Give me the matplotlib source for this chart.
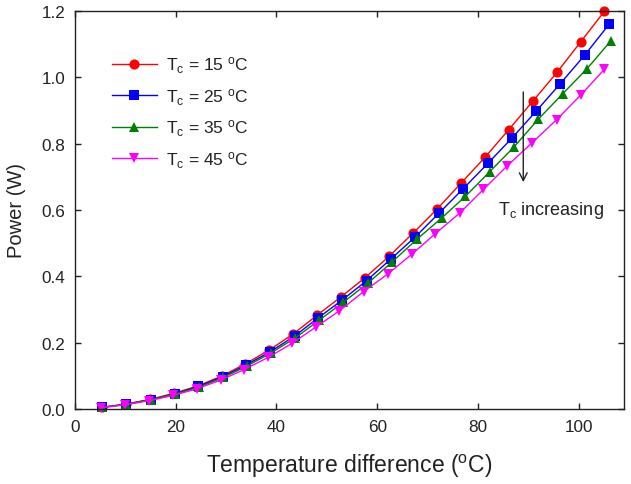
import matplotlib
matplotlib.use("Agg")
import matplotlib.pyplot as plt

plt.rcParams['font.family'] = ['Liberation Sans', 'DejaVu Sans']
plt.rcParams['mathtext.default'] = 'regular'

# Data
x_15 = [5.3, 10.1, 14.9, 19.6, 24.3, 29.1, 33.8, 38.6, 43.3, 48.1, 52.8,
        57.6, 62.4, 67.1, 71.9, 76.6, 81.4, 86.1, 90.9, 95.7, 100.4, 105.1]
p_15 = [0.005, 0.015, 0.029, 0.047, 0.069, 0.099, 0.136, 0.178, 0.226, 0.283, 0.338,
        0.396, 0.461, 0.530, 0.603, 0.680, 0.759, 0.842, 0.928, 1.015, 1.107, 1.199]

x_25 = [5.4, 10.2, 15.0, 19.8, 24.5, 29.3, 34.0, 38.8, 43.6, 48.3, 53.1,
        57.9, 62.7, 67.5, 72.3, 77.0, 82.0, 86.7, 91.5, 96.3, 101.2, 106.1]
p_25 = [0.005, 0.014, 0.028, 0.046, 0.068, 0.097, 0.133, 0.173, 0.220, 0.275, 0.329,
        0.387, 0.452, 0.518, 0.591, 0.663, 0.741, 0.816, 0.897, 0.980, 1.067, 1.161]

x_35 = [5.4, 10.2, 15.0, 19.8, 24.6, 29.4, 34.2, 38.9, 43.7, 48.5, 53.3,
        58.2, 63.0, 67.9, 72.8, 77.5, 82.3, 87.1, 92.0, 96.8, 101.6, 106.4]
p_35 = [0.005, 0.014, 0.028, 0.045, 0.066, 0.095, 0.130, 0.169, 0.214, 0.268, 0.322,
        0.380, 0.444, 0.512, 0.576, 0.641, 0.715, 0.789, 0.874, 0.950, 1.025, 1.110]

x_45 = [5.2, 10.0, 14.7, 19.5, 24.2, 28.9, 33.6, 38.4, 43.1, 47.8, 52.5,
        57.3, 62.1, 66.9, 71.5, 76.4, 81.1, 85.8, 90.7, 95.6, 100.5, 105.1]
p_45 = [0.004, 0.013, 0.025, 0.041, 0.061, 0.087, 0.119, 0.156, 0.198, 0.247, 0.296,
        0.354, 0.407, 0.467, 0.528, 0.591, 0.662, 0.733, 0.802, 0.872, 0.948, 1.024]

labels = [r'T$_{c}$ = 15 $^{o}$C', r'T$_{c}$ = 25 $^{o}$C',
          r'T$_{c}$ = 35 $^{o}$C', r'T$_{c}$ = 45 $^{o}$C']
colors = ['#ff0000', '#0000ff', '#008000', '#ff00ff']
markers = ['o', 's', '^', 'v']

xticks = [0, 20, 40, 60, 80, 100]
yticks = [0.0, 0.2, 0.4, 0.6, 0.8, 1.0, 1.2]

fig = plt.figure(figsize=(6.31, 4.85), dpi=100)
ax = fig.add_axes([75/631, 1-410/485, (624-75)/631, (410-12)/485])

series = [(x_15, p_15), (x_25, p_25), (x_35, p_35), (x_45, p_45)]
for (xs, ys), lab, c, m in zip(series, labels, colors, markers):
    ax.plot(xs, ys, color=c, marker=m, markersize=7.3, linewidth=1.0,
            markeredgewidth=0, label=lab, clip_on=False)

ax.set_xlim(0, 109)
ax.set_ylim(0, 1.2)
ax.set_xticks(xticks)
ax.set_xticklabels([str(t) for t in xticks])
ax.set_yticks(yticks)
ax.set_yticklabels([f'{t:.1f}' for t in yticks])
ax.tick_params(direction='in', top=True, right=True, length=4, width=1,
               labelsize=12.3, colors='#222222', pad=7)
for s in ax.spines.values():
    s.set_color('#222222')
    s.set_linewidth(1.0)

ax.set_xlabel(r'Temperature difference ($^{o}$C)', fontsize=16.5, color='#222222', labelpad=13)
ax.set_ylabel('Power (W)', fontsize=14.5, color='#222222', labelpad=11)

leg = ax.legend(loc='upper left', bbox_to_anchor=(0.051, 0.912), frameon=False,
                fontsize=12.5, handlelength=2.6, borderpad=0, labelspacing=0.62,
                handletextpad=0.55)
for t in leg.get_texts():
    t.set_color('#222222')

ax.annotate('', xy=(89.0, 0.684), xytext=(89.0, 0.956),
            arrowprops=dict(arrowstyle='->', color='#222222', lw=1.0,
                            mutation_scale=14, shrinkA=0, shrinkB=0))
ax.text(84.0, 0.600, r'T$_{c}$ increasing', fontsize=13, color='#222222',
        ha='left', va='center')

fig.savefig('out.png', dpi=100)
